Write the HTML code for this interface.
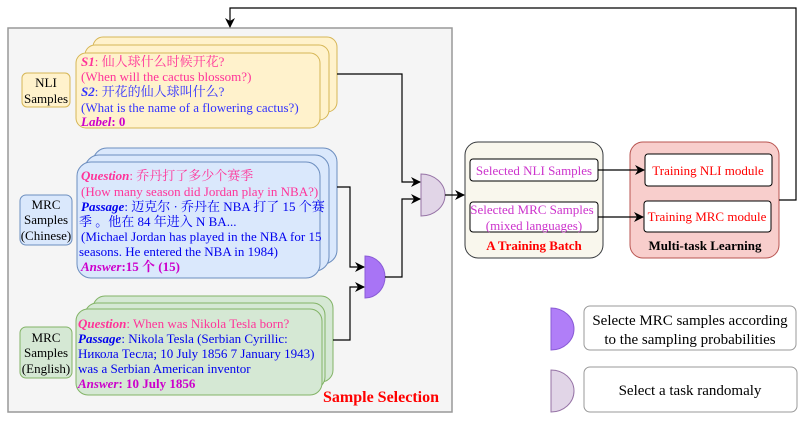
<!DOCTYPE html>
<html><head><meta charset="utf-8"><style>
body{margin:0;background:#fff;}
svg text{font-family:"Liberation Serif","Noto Serif CJK SC","Noto Sans CJK SC",serif;font-size:13px;}
.b{font-weight:bold}
.i{font-style:italic;font-weight:bold}
.lg{font-family:"Liberation Serif",serif;font-size:15px}
</style></head><body>
<svg width="806" height="423" viewBox="0 0 806 423" xmlns="http://www.w3.org/2000/svg">
<defs><marker id="a" markerWidth="10" markerHeight="10" refX="9" refY="5" orient="auto" markerUnits="userSpaceOnUse"><path d="M0,0 L10,5 L0,10 L3,5 z" fill="#000"/></marker></defs>
<rect x="8" y="28" width="444" height="384" fill="#f5f5f5" stroke="#999" stroke-width="1.5"/>
<!-- NLI -->
<rect x="93" y="37" width="244" height="75" rx="10" fill="#fff2cc" stroke="#d6b656"/>
<rect x="85" y="45" width="244" height="75" rx="10" fill="#fff2cc" stroke="#d6b656"/>
<rect x="76" y="53" width="244" height="75" rx="10" fill="#fff2cc" stroke="#d6b656"/>
<rect x="22" y="73" width="48" height="34" rx="5" fill="#fff2cc" stroke="#d6b656"/>
<text x="46" y="87" text-anchor="middle">NLI</text><text x="46" y="103" text-anchor="middle">Samples</text>
<text x="81" y="66" fill="#ff3399"><tspan class="i">S1</tspan>: 仙人球什么时候开花?</text>
<text x="81" y="81" fill="#ff3399">(When will the cactus blossom?)</text>
<text x="81" y="96" fill="#3333ff"><tspan class="i">S2</tspan>: 开花的仙人球叫什么?</text>
<text x="81" y="112" fill="#3333ff">(What is the name of a flowering cactus?)</text>
<text x="81" y="126" fill="#cc00cc" class="b"><tspan font-style="italic">Label</tspan>: 0</text>
<!-- MRC Chinese -->
<rect x="93" y="148" width="244" height="116" rx="14" fill="#dae8fc" stroke="#6c8ebf"/>
<rect x="85" y="155" width="244" height="116" rx="14" fill="#dae8fc" stroke="#6c8ebf"/>
<rect x="77" y="162" width="243" height="116" rx="14" fill="#dae8fc" stroke="#6c8ebf"/>
<rect x="20" y="195" width="52" height="50" rx="6" fill="#dae8fc" stroke="#6c8ebf"/>
<text x="46" y="209" text-anchor="middle">MRC</text><text x="46" y="224" text-anchor="middle">Samples</text><text x="46" y="240" text-anchor="middle">(Chinese)</text>
<text x="81" y="180" fill="#ff3399"><tspan class="i">Question</tspan>: 乔丹打了多少个赛季</text>
<text x="81" y="196" fill="#ff3399">(How many season did Jordan play in NBA?)</text>
<text x="81" y="211" fill="#0000ee"><tspan class="i">Passage</tspan>: 迈克尔 · 乔丹在 NBA 打了 15 个赛</text>
<text x="79" y="226" fill="#0000ee">季 。他在 84 年进入 N BA...</text>
<text x="81" y="241" fill="#0000ee">(Michael Jordan has played in the NBA for 15</text>
<text x="79" y="256" fill="#0000ee">seasons. He entered the NBA in 1984)</text>
<text x="81" y="271" fill="#cc00cc" class="b"><tspan font-style="italic">Answer</tspan>:15 个 (15)</text>
<!-- MRC English -->
<rect x="93" y="296" width="240" height="86" rx="12" fill="#d5e8d4" stroke="#82b366"/>
<rect x="85" y="303" width="240" height="86" rx="12" fill="#d5e8d4" stroke="#82b366"/>
<rect x="76" y="309" width="246" height="86" rx="12" fill="#d5e8d4" stroke="#82b366"/>
<rect x="20" y="327" width="52" height="51" rx="6" fill="#d5e8d4" stroke="#82b366"/>
<text x="46" y="342" text-anchor="middle">MRC</text><text x="46" y="357" text-anchor="middle">Samples</text><text x="46" y="373" text-anchor="middle">(English)</text>
<text x="78" y="328" fill="#ff3399"><tspan class="i">Question</tspan>: When was Nikola Tesla born?</text>
<text x="78" y="343" fill="#0000ee"><tspan class="i">Passage</tspan>: Nikola Tesla (Serbian Cyrillic:</text>
<text x="78" y="358" fill="#0000ee">Никола Тесла; 10 July 1856 7 January 1943)</text>
<text x="78" y="373" fill="#0000ee">was a Serbian American inventor</text>
<text x="78" y="388" fill="#cc00cc" class="b"><tspan font-style="italic">Answer</tspan>: 10 July 1856</text>
<text x="381" y="402" text-anchor="middle" fill="#ff0000" class="b" style="font-size:16px">Sample Selection</text>
<path d="M365,256 A20,21 0 0 1 365,298 Z" fill="#a874f5" stroke="#8a5cd6"/>
<path d="M421,174 A24,21 0 0 1 421,216 Z" fill="#e1d5e7" stroke="#9673a6"/>
<!-- batch -->
<rect x="465" y="142" width="138" height="116" rx="13" fill="#f9f7ed" stroke="#36393d"/>
<rect x="470" y="159" width="128" height="22" rx="3" fill="#fff" stroke="#000"/>
<text x="534" y="175" text-anchor="middle" fill="#cc33cc">Selected NLI Samples</text>
<rect x="470" y="202" width="128" height="30" rx="3" fill="#fff" stroke="#000"/>
<text x="532" y="214" text-anchor="middle" fill="#cc33cc">Selected MRC Samples</text>
<text x="534" y="230" text-anchor="middle" fill="#cc33cc">(mixed languages)</text>
<text x="534" y="250" text-anchor="middle" fill="#ff0000" class="b">A Training Batch</text>
<!-- multitask -->
<rect x="630" y="142" width="149" height="116" rx="13" fill="#f8cecc" stroke="#b85450"/>
<rect x="645" y="154" width="127" height="32" rx="3" fill="#fff" stroke="#000"/>
<text x="708" y="175" text-anchor="middle" fill="#ff0000">Training NLI module</text>
<rect x="644" y="201" width="127" height="31" rx="3" fill="#fff" stroke="#000"/>
<text x="707" y="221" text-anchor="middle" fill="#ff0000">Training MRC module</text>
<text x="705" y="250" text-anchor="middle" class="b">Multi-task Learning</text>
<!-- connectors -->
<g fill="none" stroke="#000" stroke-width="1.2">
<path d="M337,74 H402 V182 H420" marker-end="url(#a)"/>
<path d="M337,187 H350 V267 H364" marker-end="url(#a)"/>
<path d="M333,340 H350 V287 H364" marker-end="url(#a)"/>
<path d="M385,277 H402 V199 H420" marker-end="url(#a)"/>
<path d="M445,195 H464" marker-end="url(#a)"/>
<path d="M598,170 H644" marker-end="url(#a)"/>
<path d="M598,217 H643" marker-end="url(#a)"/>
<path d="M779,200 H796 V8 H230 V27" marker-end="url(#a)"/>
</g>
<!-- legend -->
<path d="M551,308 A23,21 0 0 1 551,350 Z" fill="#b07ef8" stroke="#8a5cd6"/>
<rect x="584" y="306" width="212" height="44" rx="6" fill="#fff" stroke="#999"/>
<text x="690" y="325" text-anchor="middle" class="lg">Selecte MRC samples according</text>
<text x="690" y="344" text-anchor="middle" class="lg">to the sampling probabilities</text>
<path d="M551,370 A23,21 0 0 1 551,412 Z" fill="#e1d5e7" stroke="#9673a6"/>
<rect x="584" y="367" width="213" height="45" rx="6" fill="#fff" stroke="#999"/>
<text x="690" y="395" text-anchor="middle" class="lg">Select a task randomaly</text>
</svg>
</body></html>
